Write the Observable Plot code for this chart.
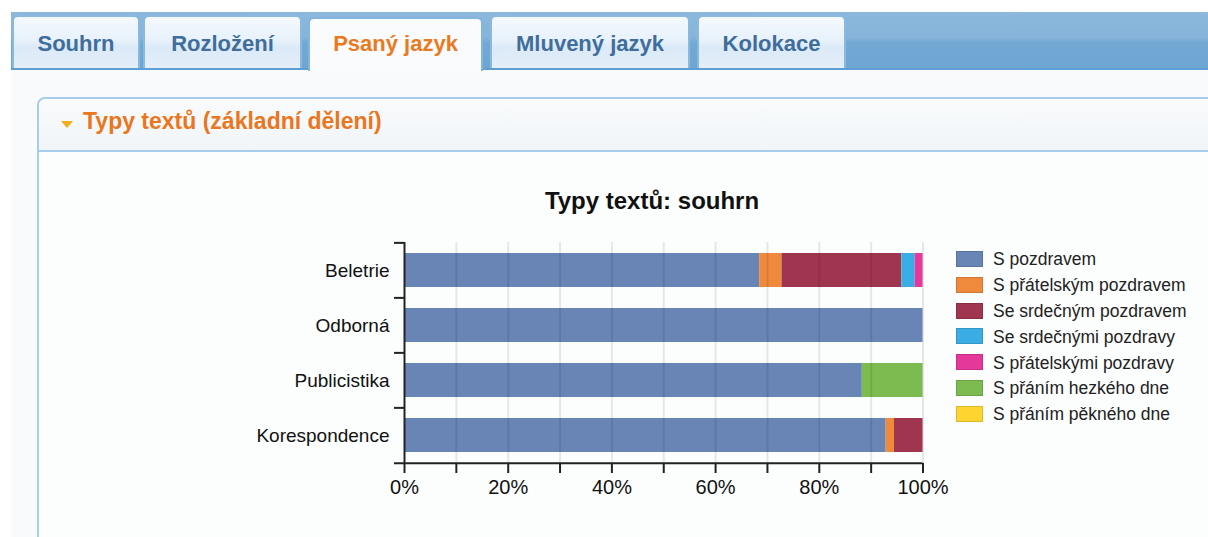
<!DOCTYPE html>
<html>
<head>
<meta charset="utf-8">
<script src="https://cdn.jsdelivr.net/npm/d3@7"></script>
<script src="https://cdn.jsdelivr.net/npm/@observablehq/plot@0.6"></script>
<style>
  html, body { margin: 0; padding: 0; width: 1208px; height: 537px; overflow: hidden; background: #fff;
    font-family: "Liberation Sans", Arial, sans-serif; }
  .abs { position: absolute; }
  #tabbar { left: 11px; top: 12px; width: 1197px; height: 56px;
    background: linear-gradient(to bottom, #8bb8dc 0%, #86b4da 45%, #72a9d4 55%, #6ea6d3 100%);
    border-bottom: 2px solid #5e9ed5; }
  .tab { top: 15px; height: 53px; box-sizing: border-box; border: 2px solid #8ab8de; border-bottom: none;
    border-radius: 6px 6px 0 0;
    background: linear-gradient(to bottom, #f4f9fd 0%, #e8f2fb 45%, #dbeaf7 60%, #e3eff9 100%); }
  .tab span { position: absolute; left: 0; right: 0; top: 16px; text-align: center; font-weight: bold;
    font-size: 22px; line-height: 22px; color: #3f6d9c; }
  .tab.active { top: 17px; height: 54px; background: #f9fbfd; border-color: #86b5dc; z-index: 2; }
  .tab.active span { color: #ea7a20; top: 14px; }
  #content { left: 11px; top: 70px; width: 1197px; height: 467px; background: #f8fafb; }
  #panel { left: 37px; top: 97px; width: 1190px; height: 460px; box-sizing: border-box;
    border: 2px solid #a8ccec; border-radius: 8px 0 0 0; background: #fcfdfd; }
  #phead { left: 0; top: 0; right: 0; height: 51px; border-bottom: 2px solid #a8ccec;
    background: linear-gradient(to bottom, #f9fbfc, #f1f5f8); border-radius: 7px 0 0 0; }
  #tri { left: 22px; top: 22px; width: 0; height: 0; border-left: 6px solid transparent;
    border-right: 6px solid transparent; border-top: 7px solid #f4ae1b; }
  #ptitle { left: 44px; top: 11px; font-size: 23px; line-height: 23px; font-weight: bold; color: #ea7620; white-space: nowrap; }
  #ctitle { left: 452px; width: 400px; top: 189px; text-align: center; font-size: 24px; line-height: 24px;
    font-weight: bold; color: #111; }
  #chart { left: 240px; top: 230px; }
  .lg-sw { width: 27px; height: 16px; box-sizing: border-box; }
  .lg-tx { font-size: 17.5px; line-height: 17.5px; color: #222; white-space: nowrap; }
</style>
</head>
<body>
<div id="tabbar" class="abs"></div>
<div id="content" class="abs"></div>
<div id="tabs"></div>
<div id="panel" class="abs">
  <div id="phead" class="abs">
    <div id="tri" class="abs"></div>
    <div id="ptitle" class="abs">Typy textů (základní dělení)</div>
  </div>
</div>
<div id="ctitle" class="abs">Typy textů: souhrn</div>
<div id="chart" class="abs"></div>
<div id="legend"></div>
<script>
// ---- data ----
const tabNames = ["Souhrn", "Rozložení", "Psaný jazyk", "Mluvený jazyk", "Kolokace"];
const activeTab = "Psaný jazyk";
const categories = ["Beletrie", "Odborná", "Publicistika", "Korespondence"];
const series = ["S pozdravem", "S přátelským pozdravem", "Se srdečným pozdravem", "Se srdečnými pozdravy",
  "S přátelskými pozdravy", "S přáním hezkého dne", "S přáním pěkného dne"];
const colors = ["#6885b6", "#ef8a3c", "#a0354f", "#3aaee4", "#e4399b", "#7bbb50", "#fed530"];
// percentages per category (Beletrie, Odborná, Publicistika, Korespondence)
const sPozdravem           = [68.5, 100, 88.3, 92.9];
const sPratelskymPozdravem = [4.3, 0, 0, 1.6];
const seSrdecnymPozdravem  = [23.1, 0, 0, 5.5];
const seSrdecnymiPozdravy  = [2.6, 0, 0, 0];
const sPratelskymiPozdravy = [1.5, 0, 0, 0];
const sPranimHezkehoDne    = [0, 0, 11.7, 0];
const sPranimPeknehoDne    = [0, 0, 0, 0];
const xTicks = [0, 10, 20, 30, 40, 50, 60, 70, 80, 90, 100];
const xTickLabels = ["0%", "", "20%", "", "40%", "", "60%", "", "80%", "", "100%"];

// ---- page chrome ----
const tabBoxes = [[12, 140], [143, 302], [308, 483], [490, 690], [697, 846]];
const tabsEl = document.getElementById("tabs");
tabNames.forEach((name, i) => {
  const d = document.createElement("div");
  d.className = "abs tab" + (name === activeTab ? " active" : "");
  d.style.left = tabBoxes[i][0] + "px";
  d.style.width = (tabBoxes[i][1] - tabBoxes[i][0]) + "px";
  const s = document.createElement("span");
  s.textContent = name;
  d.appendChild(s);
  tabsEl.appendChild(d);
});

// ---- chart ----
const valueRows = [sPozdravem, sPratelskymPozdravem, seSrdecnymPozdravem, seSrdecnymiPozdravy,
  sPratelskymiPozdravy, sPranimHezkehoDne, sPranimPeknehoDne];
const data = [];
categories.forEach((c, ci) => {
  series.forEach((s, si) => {
    data.push({category: c, series: s, value: valueRows[si][ci]});
  });
});

const W = 720, H = 270, mL = 164, mR = 37.5, mT = 12, mB = 37;
const step = (H - mT - mB) / categories.length;
const dark = "#222";

const chart = Plot.plot({
  width: W, height: H,
  marginLeft: mL, marginRight: mR, marginTop: mT, marginBottom: mB,
  style: {fontFamily: "'Liberation Sans', Arial, sans-serif", background: "transparent", overflow: "visible"},
  x: {domain: [0, 100], axis: null, label: null},
  y: {domain: categories, paddingInner: 0.385, paddingOuter: 0.1925, axis: null, label: null},
  color: {domain: series, range: colors},
  marks: [
    Plot.barX(data, {x: "value", y: "category", fill: "series"}),
    Plot.ruleX(xTicks.slice(1), {stroke: "#000", strokeOpacity: 0.09, strokeWidth: 2}),
    Plot.axisX({ticks: xTicks, tickSize: 10, tickPadding: 6, fontSize: 20, label: null,
      tickFormat: d => xTickLabels[xTicks.indexOf(d)], stroke: dark, strokeWidth: 2, fill: "#111"}),
    Plot.axisY({tickSize: 0, tickPadding: 15, fontSize: 19, fill: "#111", label: null}),
    Plot.ruleX([0], {stroke: dark, strokeWidth: 2}),
    Plot.ruleY(categories, {y: d => d, x1: 0, x2: 0, insetLeft: -10, dy: -step / 2, stroke: dark, strokeWidth: 2}),
    Plot.ruleY(categories.slice(-1), {y: d => d, x1: 0, x2: 100, insetLeft: -10, dy: step / 2, stroke: dark, strokeWidth: 2})
  ]
});
document.getElementById("chart").appendChild(chart);

// ---- legend ----
const lg = document.getElementById("legend");
series.forEach((s, i) => {
  const top = 251 + i * 25.8;
  const sw = document.createElement("div");
  sw.className = "abs lg-sw";
  sw.style.left = "956px"; sw.style.top = top + "px";
  sw.style.background = colors[i];
  sw.style.border = "1px solid " + d3.color(colors[i]).darker(0.4);
  lg.appendChild(sw);
  const tx = document.createElement("div");
  tx.className = "abs lg-tx";
  tx.style.left = "993px"; tx.style.top = (top + 0.3) + "px";
  tx.textContent = s;
  lg.appendChild(tx);
});
</script>
</body>
</html>
